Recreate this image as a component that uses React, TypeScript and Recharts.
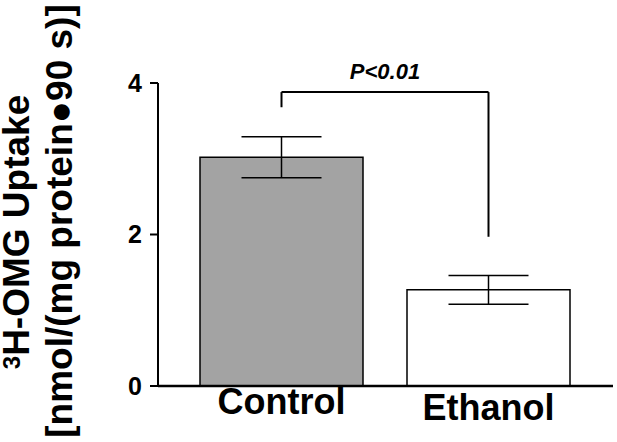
import React from 'react';
import { BarChart, Bar, XAxis, YAxis, ErrorBar, Cell, ReferenceLine } from 'recharts';

const groups = ['Control', 'Ethanol'];
const uptake = [3.02, 1.27];
const sem = [0.27, 0.19];
const barFills = ['#a3a3a3', '#ffffff'];
const yTicks = [0, 2, 4];

// significance bracket (y values in axis units)
const bracketTop = 3.88;
const bracketLeftEnd = 3.68;
const bracketRightEnd = 1.97;
const pLabel = 'P<0.01';

const data = groups.map((g, i) => ({ group: g, uptake: uptake[i], sem: sem[i] }));

const FONT = '"Liberation Sans", Arial, Helvetica, sans-serif';

const YLabel = () => (
  <g fontFamily={FONT} fontWeight="bold" fontSize={37} fill="#000">
    <text transform="rotate(-90)" x={-232} y={29} textAnchor="middle">
      <tspan fontSize={24} dy={-9}>3</tspan>
      <tspan dy={9}>H-OMG Uptake</tspan>
    </text>
    <text transform="rotate(-90)" x={-221} y={72} textAnchor="middle">
      [nmol/(mg protein●90 s)]
    </text>
  </g>
);

const XTick = (props: any) => {
  const { x, y, payload } = props;
  const drop = payload.index === 1 ? 6 : 0;
  return (
    <text x={x} y={y + 26 + drop} textAnchor="middle" fontFamily={FONT} fontWeight="bold" fontSize={36} fill="#000">
      {payload.value}
    </text>
  );
};

const PText = (props: any) => {
  const vb = props.viewBox || {};
  const cx = vb.x + (vb.width || 0) / 2;
  return (
    <text x={cx} y={vb.y - 13} textAnchor="middle" fontFamily={FONT} fontWeight="bold" fontStyle="italic" fontSize={22} fill="#000">
      {pLabel}
    </text>
  );
};

export default function App() {
  return (
    <div style={{ position: 'absolute', left: 0, top: 0, width: 617, height: 442, background: '#fff' }}>
      <BarChart width={617} height={442} data={data} margin={{ top: 83, right: 4, bottom: 0, left: 0 }} barSize={163}>
        <XAxis
          dataKey="group"
          padding={{ left: 20, right: 21 }}
          axisLine={{ stroke: '#000', strokeWidth: 2.5 }}
          tickLine={false}
          tickSize={0}
          tick={<XTick />}
          height={56}
        />
        <YAxis
          domain={[0, 4]}
          ticks={yTicks}
          width={158}
          axisLine={{ stroke: '#000', strokeWidth: 2 }}
          tickLine={{ stroke: '#000', strokeWidth: 2 }}
          tickSize={8}
          tickMargin={8}
          tick={{ fontFamily: FONT, fontWeight: 'bold', fontSize: 25, fill: '#000' }}
          label={<YLabel />}
        />
        <Bar dataKey="uptake" stroke="#000" strokeWidth={1.5} isAnimationActive={false}>
          {data.map((d, i) => (
            <Cell key={d.group} fill={barFills[i]} />
          ))}
          <ErrorBar dataKey="sem" width={40} stroke="#000" strokeWidth={1.5} isAnimationActive={false} />
        </Bar>
        <ReferenceLine
          segment={[{ x: groups[0], y: bracketLeftEnd }, { x: groups[0], y: bracketTop }]}
          stroke="#000"
          strokeWidth={2}
          ifOverflow="visible"
        />
        <ReferenceLine
          segment={[{ x: groups[0], y: bracketTop }, { x: groups[1], y: bracketTop }]}
          stroke="#000"
          strokeWidth={2}
          ifOverflow="visible"
          label={<PText />}
        />
        <ReferenceLine
          segment={[{ x: groups[1], y: bracketTop }, { x: groups[1], y: bracketRightEnd }]}
          stroke="#000"
          strokeWidth={2}
          ifOverflow="visible"
        />
      </BarChart>
    </div>
  );
}
